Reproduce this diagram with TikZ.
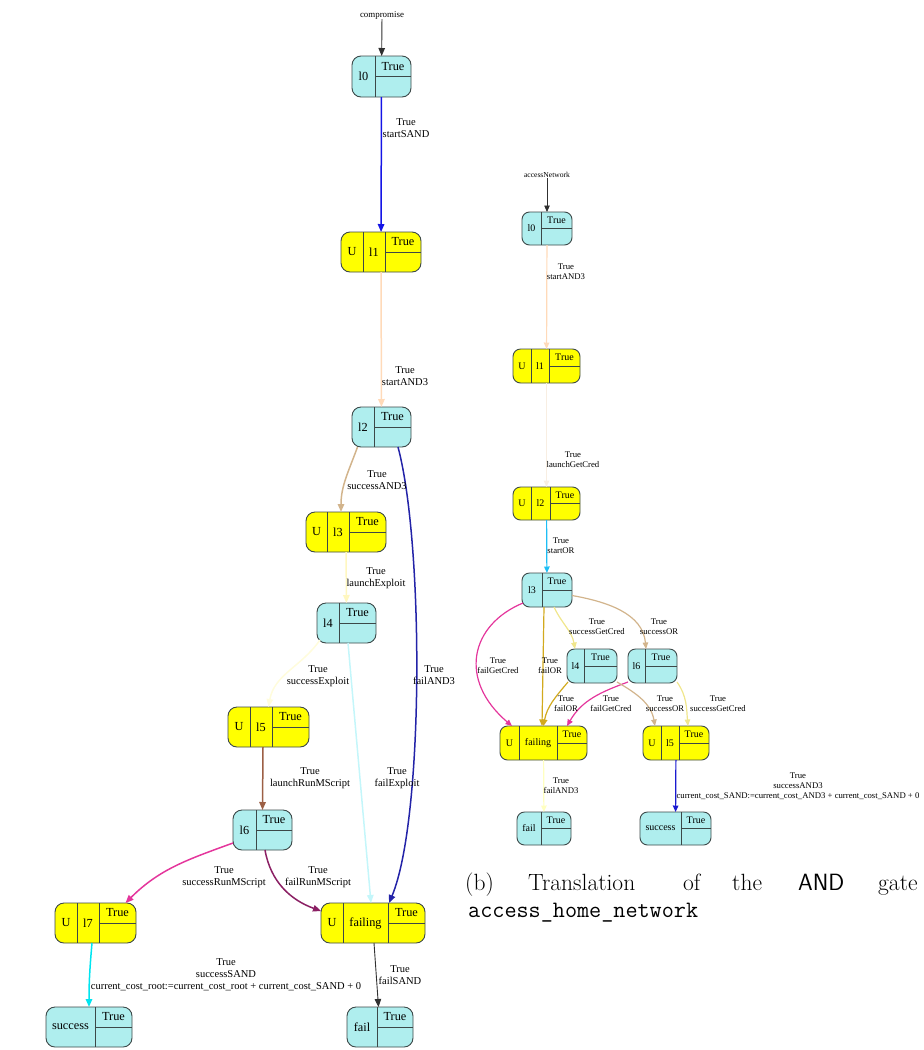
\documentclass[tikz,border=0pt]{standalone}
\usepackage{fontspec}
\newfontfamily\tms{Liberation Serif}
\usetikzlibrary{arrows.meta}
\definecolor{cfill}{HTML}{AFEEEE}
\definecolor{yfill}{HTML}{FFFF00}
\definecolor{bord}{HTML}{3C4848}
\definecolor{cblue}{HTML}{1414E6}
\definecolor{cnavy}{HTML}{2323A8}
\definecolor{cpeach}{HTML}{FFDAB9}
\definecolor{ctan}{HTML}{D2B48C}
\definecolor{clemon}{HTML}{FFF7C0}
\definecolor{civory}{HTML}{FFFCDC}
\definecolor{cbrown}{HTML}{9C5F45}
\definecolor{cpink}{HTML}{E4369C}
\definecolor{cplum}{HTML}{8B2064}
\definecolor{clcyan}{HTML}{C4F6FA}
\definecolor{ccyan}{HTML}{00E5F0}
\definecolor{csky}{HTML}{1EBEF5}
\definecolor{clinen}{HTML}{F8EEE2}
\definecolor{cgold}{HTML}{D2AA1E}
\definecolor{ckhaki}{HTML}{F0E68C}
\definecolor{cpyel}{HTML}{FFFFC0}
\definecolor{cblueb}{HTML}{1A1AD0}
\definecolor{cdark}{HTML}{303030}
\newcommand\rad{9}
\newcommand\nfont{\tms\fontsize{12.3}{14}\selectfont}
\newcommand\efont{\tms\fontsize{10.5}{12}\selectfont}
\tikzset{
  cbox/.style={draw=bord, fill=cfill, line width=0.9, rounded corners=\rad, inner sep=0, outer sep=0},
  ybox/.style={cbox, fill=yfill},
  divl/.style={draw=bord, line width=0.9},
  ntxt/.style={inner sep=0, font=\nfont},
  elab/.style={inner sep=0, align=center, font=\efont},
  edgeL/.style={line width=1.5, -{Triangle[length=8,width=6.5]}},
  edgeR/.style={line width=1.2, -{Triangle[length=6.5,width=5.5]}},
  thinL/.style={line width=0.9, cdark, -{Triangle[length=8,width=6.5]}},
  thinR/.style={line width=0.8, cdark, -{Triangle[length=6.5,width=5.5]}},
}
\newcommand\cnode[7]{%
  \node[cbox,minimum width={#4-#2},minimum height={#5-#3}] (#1) at ({(#2+#4)/2},{(#3+#5)/2}) {};
  \draw[divl] (#6,#3) -- (#6,#5) (#6,{(#3+#5)/2}) -- (#4,{(#3+#5)/2});
  \node[ntxt] (#1n) at ({(#2+#6)/2},{(#3+#5)/2}) {#7};
  \node[ntxt] (#1t) at ({(#6+#4)/2},{(3*#3+#5)/4}) {True};
}
\newcommand\ynode[8]{%
  \node[ybox,minimum width={#4-#2},minimum height={#5-#3}] (#1) at ({(#2+#4)/2},{(#3+#5)/2}) {};
  \draw[divl] (#6,#3) -- (#6,#5) (#7,#3) -- (#7,#5) (#7,{(#3+#5)/2}) -- (#4,{(#3+#5)/2});
  \node[ntxt] (#1u) at ({(#2+#6)/2},{(#3+#5)/2}) {U};
  \node[ntxt] (#1n) at ({(#6+#7)/2},{(#3+#5)/2}) {#8};
  \node[ntxt] (#1t) at ({(#7+#4)/2},{(3*#3+#5)/4}) {True};
}
\begin{document}
\begin{tikzpicture}[x=1pt,y=-1pt]
\useasboundingbox (0,0) rectangle (924,1050);
% ================= left diagram =================
\node[inner sep=0, font=\tms\fontsize{8.9}{10}\selectfont] (Lc) at (382,15) {compromise};
\cnode{L0}{352}{56}{411}{97}{375}{l0}
\ynode{L1}{341}{232}{421}{272}{363}{385}{l1}
\cnode{L2}{352}{407}{411}{447}{374}{l2}
\ynode{L3}{306}{512}{386}{552}{327}{349}{l3}
\cnode{L4}{317}{603}{376}{643}{339}{l4}
\ynode{L5}{228}{707}{309}{747}{250}{272}{l5}
\cnode{L6}{233}{810}{292}{850}{256}{l6}
\ynode{L7}{55}{903}{136}{943}{77}{99}{l7}
\ynode{Lfg}{321}{903}{425}{943}{343}{388}{failing}
\cnode{Lsuc}{46}{1007}{132}{1047}{95}{success}
\cnode{Lfail}{347}{1007}{413}{1047}{377}{fail}

\draw[thinL] (Lc) -- (L0);
\draw[edgeL,cblue] (L0) -- (L1);
\draw[edgeL,cpeach] (L1) -- (L2);
\draw[edgeL,ctan] ([xshift=-24]L2.south) to[out=-110,in=90] ([xshift=-5]L3.north);
\draw[edgeL,clemon] (L3) -- (L4);
\draw[edgeL,civory] ([shift={(3,-3)}]L4.south west) to[out=-125,in=80] (L5.north);
\draw[edgeL,cbrown] ([xshift=-5.5]L5.south) -- (L6.north);
\draw[edgeL,cpink] ([shift={(0,13)}]L6.west) to[out=200,in=45] ([xshift=30]L7.north);
\draw[edgeL,cplum] ([xshift=2.5]L6.south) to[out=-80,in=160] ([shift={(0,-12)}]Lfg.west);
\draw[edgeL,clcyan] ([xshift=1.5]L4.south) -- ([xshift=-2]Lfg.north);
\draw[edgeL,cnavy] ([xshift=16.5]L2.south) .. controls +(26,97) and +(35,-83) .. ([xshift=16]Lfg.north);
\draw[edgeL,ccyan] ([xshift=-3.5]L7.south) to[out=-95,in=90] (Lsuc.north);
\draw[thinL] ([xshift=1]Lfg.south) -- ([xshift=-1.5]Lfail.north);

\node[elab] (la1) at (406,128) {True\\startSAND};
\node[elab] (la2) at (405,376) {True\\startAND3};
\node[elab] (la3) at (377,480) {True\\successAND3};
\node[elab] (la4) at (376,578) {True\\launchExploit};
\node[elab] (la5) at (318,676) {True\\successExploit};
\node[elab] (la6) at (434,675) {True\\failAND3};
\node[elab] (la7) at (310,778) {True\\launchRunMScript};
\node[elab] (la8) at (397,778) {True\\failExploit};
\node[elab] (la9) at (224,877) {True\\successRunMScript};
\node[elab] (la10) at (318,877) {True\\failRunMScript};
\node[elab] (la11) at (226,975) {True\\successSAND\\current\_cost\_root:=current\_cost\_root + current\_cost\_SAND + 0};
\node[elab] (la12) at (400,975) {True\\failSAND};

% ================= right diagram =================
\renewcommand\rad{7.5}
\renewcommand\nfont{\tms\fontsize{10}{11}\selectfont}
\renewcommand\efont{\tms\fontsize{8.7}{9.8}\selectfont}
\node[inner sep=0, font=\tms\fontsize{7.6}{9}\selectfont] (Rc) at (547,175) {accessNetwork};
\cnode{R0}{522}{212}{572}{245}{541}{l0}
\ynode{R1}{513}{349}{580}{383}{531}{549}{l1}
\ynode{R2}{513}{487}{580}{520}{531}{550}{l2}
\cnode{R3}{522}{573}{572}{607}{542}{l3}
\cnode{R4}{567}{649}{617}{683}{584}{l4}
\cnode{R6}{628}{649}{677}{683}{645}{l6}
\ynode{Rfg}{500}{726}{587}{760}{519}{557}{failing}
\ynode{R5}{643}{726}{709}{760}{661}{679}{l5}
\cnode{Rfail}{517}{812}{571}{845}{541}{fail}
\cnode{Rsuc}{640}{812}{711}{845}{681}{success}

\draw[thinR] (Rc) -- (R0);
\draw[edgeR,cpeach] (R0) -- (R1);
\draw[edgeR,clinen] (R1) -- (R2);
\draw[edgeR,csky] (R2) -- (R3);
\draw[edgeR,cpink] ([shift={(1,-4)}]R3.south west) .. controls +(-53,22) and +(-54,-46) .. ([xshift=-31.5]Rfg.north);
\draw[edgeR,cgold] ([xshift=-3]R3.south) -- ([xshift=-1.5]Rfg.north);
\draw[edgeR,ckhaki] ([xshift=7]R3.south) to[out=-65,in=100] ([xshift=-17]R4.north);
\draw[edgeR,ctan] ([shift={(0,5.5)}]R3.east) to[out=-10,in=95] ([xshift=-6.5]R6.north);
\draw[edgeR,cgold] ([shift={(1,-1)}]R4.south west) to[out=-130,in=80] (Rfg.north);
\draw[edgeR,cpink] ([shift={(0,-1)}]R6.south west) to[out=-160,in=60] ([xshift=23.5]Rfg.north);
\draw[edgeR,ctan] ([shift={(0,-1)}]R4.south east) to[out=-30,in=100] ([xshift=-21]R5.north);
\draw[edgeR,ckhaki] ([shift={(0,-1)}]R6.south east) to[out=-55,in=95] ([xshift=12]R5.north);
\draw[edgeR,cpyel] (Rfg) -- (Rfail);
\draw[edgeR,cblueb] (R5) -- (Rsuc);

\node[elab] (rb1) at (566,272) {True\\startAND3};
\node[elab] (rb2) at (573,460) {True\\launchGetCred};
\node[elab] (rb3) at (561,546) {True\\startOR};
\node[elab] (rb4) at (498,666) {True\\failGetCred};
\node[elab] (rb5) at (550,666) {True\\failOR};
\node[elab] (rb6) at (597,627) {True\\successGetCred};
\node[elab] (rb7) at (659,627) {True\\successOR};
\node[elab] (rb8) at (566,704) {True\\failOR};
\node[elab] (rb9) at (611,704) {True\\failGetCred};
\node[elab] (rb10) at (665,704) {True\\successOR};
\node[elab] (rb11) at (718,704) {True\\successGetCred};
\node[elab] (rb12) at (561,786) {True\\failAND3};
\node[elab] (rb13) at (798,786) {True\\successAND3\\current\_cost\_SAND:=current\_cost\_AND3 + current\_cost\_SAND + 0};

% ================= caption =================
\tikzset{capt/.style={inner sep=0, anchor=base west, font=\fontsize{23.5}{28}\selectfont}}
\node[capt] (c1) at (465,890) {(b)};
\node[capt] (c2) at (528,890) {Translation};
\node[capt] (c3) at (683,890) {of};
\node[capt] (c4) at (732,890) {the};
\node[capt] (c5) at (798,890) {\textsf{AND}};
\node[capt] (c6) at (878,890) {gate};
\node[capt] (c7) at (468,917) {\texttt{access\_home\_network}};
\end{tikzpicture}
\end{document}
